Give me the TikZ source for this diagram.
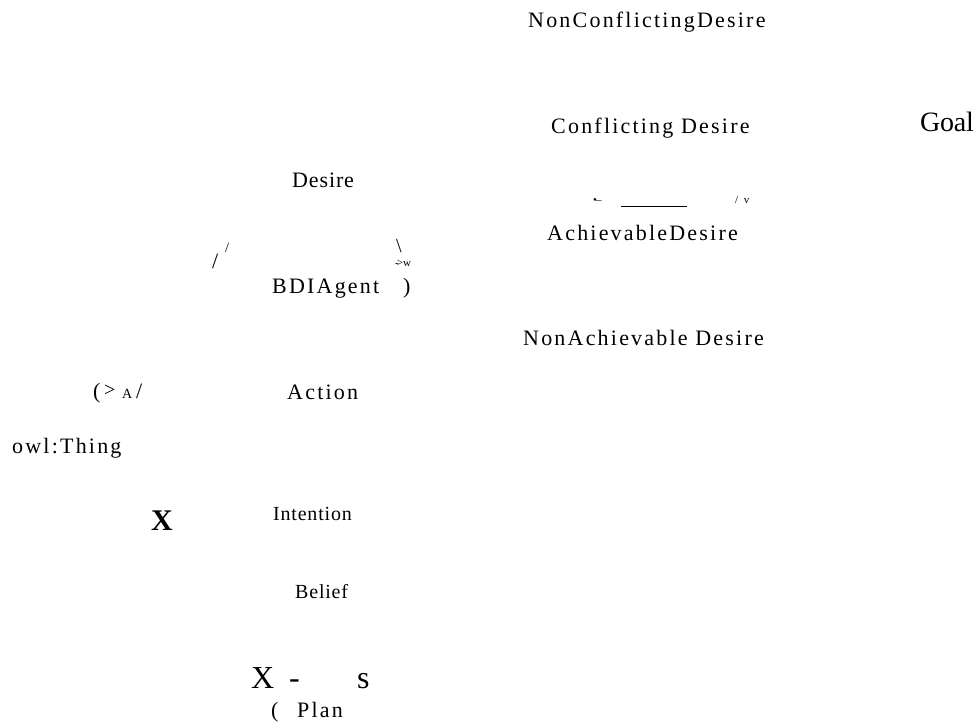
\documentclass[tikz,border=0pt]{standalone}
\usepackage{fontspec}
\setmainfont{Liberation Serif}
\begin{document}
\begin{tikzpicture}[x=1pt,y=-1pt]
\tikzset{
  lbl/.style={inner sep=0pt,anchor=base west,font=\fontsize{22}{24}\selectfont\addfontfeatures{LetterSpace=10}},
  mid/.style={inner sep=0pt,anchor=base west,font=\fontsize{20}{22}\selectfont\addfontfeatures{LetterSpace=4}},
  tiny/.style={inner sep=0pt,anchor=base west,font=\fontsize{11}{12}\selectfont},
  big/.style={inner sep=0pt,anchor=base west,font=\fontsize{32}{34}\selectfont}
}
\useasboundingbox (0,0) rectangle (977,723);
\node[lbl] (ncd) at (528,27) {NonConflictingDesire};
\node[lbl] (cd) at (551,133) {Conflicting Desire};
\node[inner sep=0pt,anchor=base west,font=\fontsize{28}{30}\selectfont\addfontfeatures{LetterSpace=-1}] (goal) at (920,131) {Goal};
\node[lbl,font=\fontsize{22}{24}\selectfont\addfontfeatures{LetterSpace=4}] (desire) at (292,187) {Desire};
\node[tiny] (dot) at (593,203) {\textbullet\kern-1pt--};
\node[inner sep=0pt,anchor=south west] (ul) at (621,207) {\rule{66pt}{0.8pt}};
\node[tiny] (sv) at (735,203) {/\ \ v};
\node[lbl] (ach) at (547,240) {AchievableDesire};
\node[inner sep=0pt,anchor=base west,font=\fontsize{14}{16}\selectfont] (s1) at (225,252) {/};
\node[inner sep=0pt,anchor=base west,font=\fontsize{22}{24}\selectfont] (s2) at (212,268) {/};
\node[inner sep=0pt,anchor=base west,font=\fontsize{20}{22}\selectfont] (s3) at (396,252) {\textbackslash};
\node[tiny] (arw) at (395,266) {-{\kern-2pt}>w};
\node[lbl] (bdi) at (272,293) {BDIAgent};
\node[lbl] (rp) at (403,293) {)};
\node[lbl] (nad) at (523,345) {NonAchievable Desire};
\node[lbl] (lp) at (93,398) {(};
\node[inner sep=0pt,anchor=base west,font=\fontsize{20}{22}\selectfont] (gt) at (104,396) {>};
\node[inner sep=0pt,anchor=base west,font=\fontsize{14}{16}\selectfont] (a) at (122,398) {A};
\node[lbl] (sl) at (136,398) {/};
\node[lbl] (act) at (287,399) {Action};
\node[lbl] (owl) at (12,453) {owl:Thing};
\node[mid] (int) at (273,520) {Intention};
\node[inner sep=0pt,anchor=base west,font=\fontsize{30}{32}\selectfont\bfseries] (xb) at (151,530) {X};
\node[mid] (bel) at (295,598) {Belief};
\node[big] (x2) at (251,688) {X};
\node[big] (dash) at (289,688) {-};
\node[big] (s) at (357,688) {s};
\node[lbl] (lp2) at (271,717) {(};
\node[lbl] (plan) at (297,717) {Plan};
\end{tikzpicture}
\end{document}
